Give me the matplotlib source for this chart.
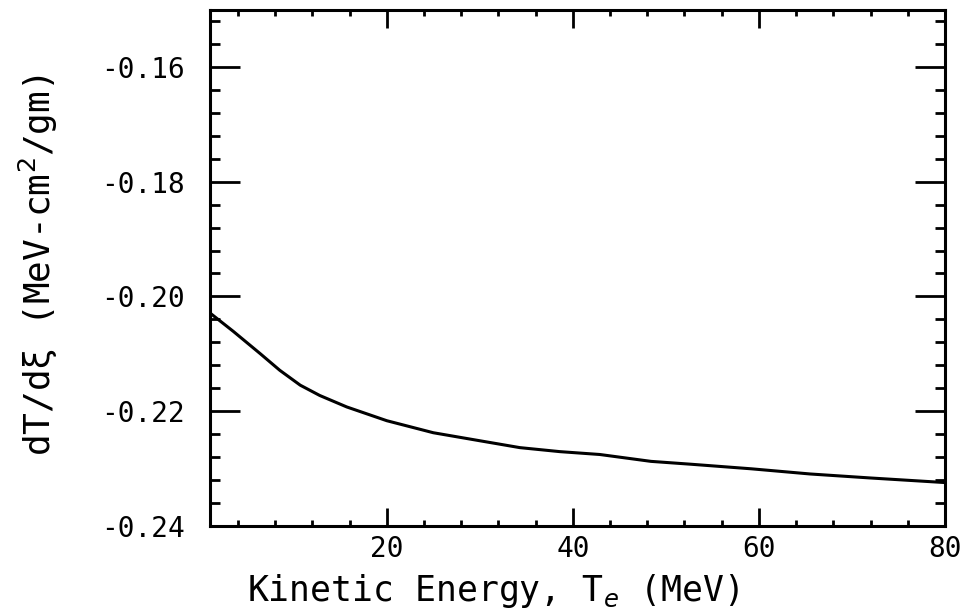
import matplotlib.pyplot as plt
from matplotlib.ticker import MultipleLocator, FormatStrFormatter

# Kinetic energy (MeV) and dT/dxi values
energy = [1, 3.5, 6.4, 8.5, 10.7, 12.8, 15.7, 20, 25, 30, 34.3, 38.6,
          42.9, 48.4, 52.7, 59.2, 65.5, 72, 80]
dtdxi = [-0.2029, -0.2061, -0.2100, -0.2129, -0.2155, -0.2173, -0.2193,
         -0.2217, -0.2238, -0.2252, -0.2264, -0.2271, -0.2276, -0.2288,
         -0.2293, -0.2301, -0.2310, -0.2317, -0.2325]

x_ticks = [20, 40, 60, 80]
y_ticks = [-0.24, -0.22, -0.20, -0.18, -0.16]

plt.rcParams['font.family'] = ['DejaVu Sans Mono', 'DejaVu Sans']
plt.rcParams['axes.unicode_minus'] = False

fig = plt.figure(figsize=(9.7, 6.13), dpi=100)
ax = fig.add_axes([0.2165, 0.1427, 0.7577, 0.841])

ax.plot(energy, dtdxi, color='black', linewidth=2.2)

ax.set_xlim(1, 80)
ax.set_ylim(-0.24, -0.15)
ax.set_xticks(x_ticks)
ax.set_yticks(y_ticks)
ax.xaxis.set_minor_locator(MultipleLocator(4))
ax.yaxis.set_minor_locator(MultipleLocator(0.004))
ax.yaxis.set_major_formatter(FormatStrFormatter('%.2f'))

for s in ax.spines.values():
    s.set_linewidth(2.2)

ax.tick_params(axis='x', which='major', direction='in', length=13, width=2,
               top=True, labelsize=20, pad=7)
ax.tick_params(axis='x', which='minor', direction='in', length=4.5, width=2,
               top=True)
ax.tick_params(axis='y', which='major', direction='in', length=21.5, width=2,
               right=True, labelsize=20, pad=18)
ax.tick_params(axis='y', which='minor', direction='in', length=7, width=2,
               right=True)

ax.set_xlabel('Kinetic Energy, T$_e$ (MeV)', fontsize=25)
ax.xaxis.set_label_coords(0.385, -0.09)
ax.xaxis.label.set_va('top')
ax.set_ylabel('dT/dξ (MeV-cm$^2$/gm)', fontsize=26)
ax.yaxis.set_label_coords(-0.234, 0.505)
ax.yaxis.label.set_va('center')

fig.savefig('out.png', dpi=100)
